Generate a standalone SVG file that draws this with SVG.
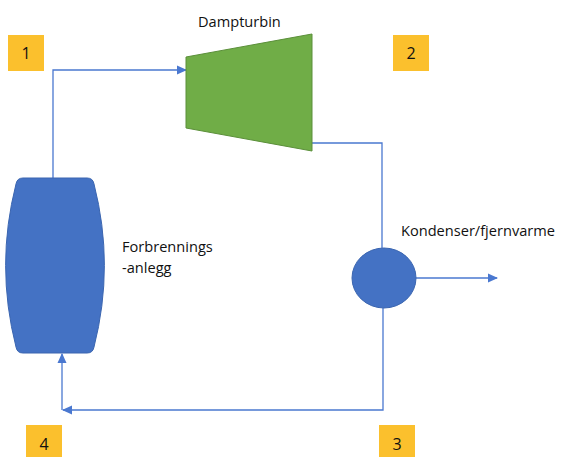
<svg xmlns="http://www.w3.org/2000/svg" width="564" height="457" viewBox="0 0 564 457">
<style>
.lbl{font-family:"Open Sans","Liberation Sans",sans-serif;font-size:14.6px;fill:#111}
.num{font-family:"Open Sans","Liberation Sans",sans-serif;font-size:16px;fill:#111;text-anchor:middle}
.badge{fill:#FBC02D}
.conn{fill:none;stroke:#4A78D0;stroke-width:1.3}
.blue{fill:#4472C4;stroke:#3A65B0;stroke-width:1}
</style>
<defs>
<marker id="ah" markerWidth="10" markerHeight="10" refX="9" refY="5" orient="auto" markerUnits="userSpaceOnUse">
<path d="M0,0.5 L10,5 L0,9.5 Z" fill="#4A78D0"/>
</marker>
</defs>
<rect width="564" height="457" fill="#fff"/>
<g id="connectors">
<path class="conn" d="M53,178 V70 H186" marker-end="url(#ah)"/>
<path class="conn" d="M312,143 H382 V248"/>
<path class="conn" d="M416,278 H497" marker-end="url(#ah)"/>
<path class="conn" d="M383,308 V410 H63" marker-end="url(#ah)"/>
<path class="conn" d="M62,410 V354" marker-end="url(#ah)"/>
</g>
<g id="turbine">
<path d="M186,57 L312,34 L312,151 L186,128 Z" fill="#70AD47" stroke="#5B8F3A" stroke-width="1"/>
<text class="lbl" x="198" y="27">Dampturbin</text>
</g>
<g id="forbrenning">
<path class="blue" d="M23,178 H87 Q93,178 94,184 A330,330 0 0 1 94,347 Q93,353 87,353 H23 Q17,353 16,347 A330,330 0 0 1 16,184 Q17,178 23,178 Z"/>
<text class="lbl" x="122" y="252">Forbrennings</text>
<text class="lbl" x="122" y="273">-anlegg</text>
</g>
<g id="kondenser">
<ellipse class="blue" cx="384" cy="278" rx="32" ry="30"/>
<text class="lbl" x="401" y="236">Kondenser/fjernvarme</text>
</g>
<g id="n1"><rect class="badge" x="8" y="35" width="36" height="36"/><text class="num" x="26" y="59">1</text></g>
<g id="n2"><rect class="badge" x="393" y="35" width="36" height="36"/><text class="num" x="411" y="59">2</text></g>
<g id="n3"><rect class="badge" x="379" y="425" width="36" height="36"/><text class="num" x="397" y="450">3</text></g>
<g id="n4"><rect class="badge" x="26" y="425" width="36" height="36"/><text class="num" x="44" y="450">4</text></g>
</svg>
